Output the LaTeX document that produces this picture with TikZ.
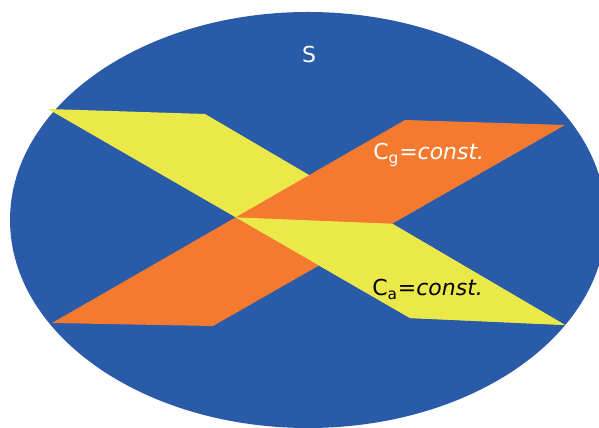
\documentclass[tikz,border=0pt]{standalone}
\usepackage{fontspec}
\setmainfont{DejaVu Sans}
\definecolor{setblue}{HTML}{2A5BA8}
\definecolor{planeyellow}{HTML}{EBE84A}
\definecolor{planeorange}{HTML}{F47A30}
\tikzset{label text/.style={anchor=base west, inner sep=0pt, font=\fontsize{12.5}{15}\selectfont}}

\begin{document}
\begin{tikzpicture}[x=0.02cm,y=-0.02cm]
	\useasboundingbox (0,0) rectangle (599,428);
	\fill[setblue] (308,220) ellipse (298 and 208);
	% corners of the two planes
	\coordinate (a1) at (48,109);
	\coordinate (a2) at (205,114);
	\coordinate (a3) at (565,325);
	\coordinate (a4) at (410,318);
	\coordinate (g1) at (52,323);
	\coordinate (g2) at (213,326);
	\coordinate (g3) at (565,125);
	\coordinate (g4) at (405,120);
	% line where they cross
	\coordinate (m) at (intersection of a1--a4 and g1--g4);
	\coordinate (n) at (intersection of a2--a3 and g2--g3);
	\fill[planeyellow] (a1) -- (a2) -- (a3) -- (a4) -- cycle;
	\fill[planeorange] (g1) -- (g2) -- (g3) -- (g4) -- cycle;
	\fill[planeyellow] (m) -- (n) -- (a3) -- (a4) -- cycle;
	\node[label text, anchor=base, text=white] (s) at (309,63) {S};
	\node[label text, text=white] (cg) at (373,160) {C$_{\mathrm{g}}$=\textit{const.}};
	\node[label text, text=black] (ca) at (372,296) {C$_{\mathrm{a}}$=\textit{const.}};
\end{tikzpicture}
\end{document}
